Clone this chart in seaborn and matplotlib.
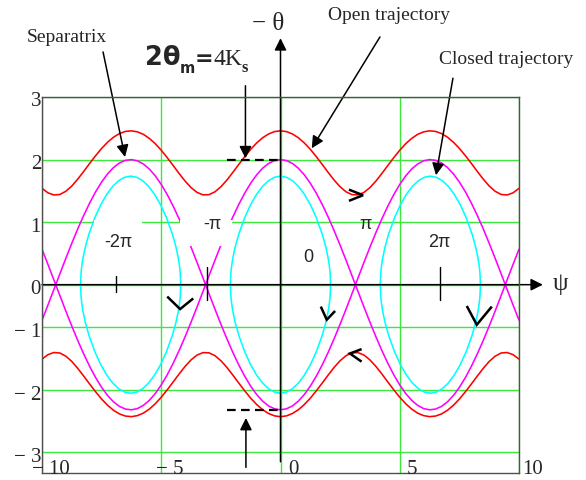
import matplotlib
matplotlib.use("Agg")
import matplotlib.pyplot as plt
from matplotlib.patches import Rectangle
import seaborn as sns

# ---- phase-plane data: psi (horizontal) against -theta (vertical) ----
psi = [-10.0, -9.75, -9.5, -9.25, -9.0, -8.75, -8.5, -8.25, -8.0, -7.75, -7.5,
       -7.25, -7.0, -6.75, -6.5, -6.25, -6.0, -5.75, -5.5, -5.25, -5.0,
       -4.75, -4.5, -4.25, -4.0, -3.75, -3.5, -3.25, -3.0, -2.75, -2.5,
       -2.25, -2.0, -1.75, -1.5, -1.25, -1.0, -0.75, -0.5, -0.25, 0.0,
       0.25, 0.5, 0.75, 1.0, 1.25, 1.5, 1.75, 2.0, 2.25, 2.5,
       2.75, 3.0, 3.25, 3.5, 3.75, 4.0, 4.25, 4.5, 4.75, 5.0,
       5.25, 5.5, 5.75, 6.0, 6.25, 6.5, 6.75, 7.0, 7.25, 7.5,
       7.75, 8.0, 8.25, 8.5, 8.75, 9.0, 9.25, 9.5, 9.75, 10.0]

# open (rotating) trajectory, upper branch
open_upper = [1.540, 1.468, 1.434, 1.442, 1.493, 1.577, 1.688, 1.811, 1.939, 2.063, 2.178,
              2.277, 2.358, 2.416, 2.450, 2.459, 2.443, 2.403, 2.338, 2.253, 2.149,
              2.031, 1.905, 1.777, 1.656, 1.552, 1.475, 1.436, 1.439, 1.484, 1.565,
              1.671, 1.794, 1.922, 2.047, 2.164, 2.265, 2.348, 2.409, 2.447, 2.460,
              2.447, 2.409, 2.348, 2.265, 2.164, 2.047, 1.922, 1.794, 1.671, 1.565,
              1.484, 1.439, 1.436, 1.475, 1.552, 1.656, 1.777, 1.905, 2.031, 2.149,
              2.253, 2.338, 2.403, 2.443, 2.459, 2.450, 2.416, 2.358, 2.277, 2.178,
              2.063, 1.939, 1.811, 1.688, 1.577, 1.493, 1.442, 1.434, 1.468, 1.540]
# open trajectory, lower branch
open_lower = [-1.190, -1.118, -1.084, -1.092, -1.143, -1.227, -1.338, -1.461, -1.589, -1.713, -1.828,
              -1.927, -2.008, -2.066, -2.100, -2.109, -2.093, -2.053, -1.988, -1.903, -1.799,
              -1.681, -1.555, -1.427, -1.306, -1.202, -1.125, -1.086, -1.089, -1.134, -1.215,
              -1.321, -1.444, -1.572, -1.697, -1.814, -1.915, -1.998, -2.059, -2.097, -2.110,
              -2.097, -2.059, -1.998, -1.915, -1.814, -1.697, -1.572, -1.444, -1.321, -1.215,
              -1.134, -1.089, -1.086, -1.125, -1.202, -1.306, -1.427, -1.555, -1.681, -1.799,
              -1.903, -1.988, -2.053, -2.093, -2.109, -2.100, -2.066, -2.008, -1.927, -1.828,
              -1.713, -1.589, -1.461, -1.338, -1.227, -1.143, -1.092, -1.084, -1.118, -1.190]

# separatrix, the two crossing branches
sep_a = [0.567, 0.324, 0.075, -0.174, -0.422, -0.662, -0.893, -1.108, -1.307, -1.486, -1.641,
         -1.771, -1.873, -1.946, -1.988, -2.000, -1.980, -1.929, -1.849, -1.739, -1.602,
         -1.441, -1.256, -1.052, -0.832, -0.599, -0.357, -0.108, 0.141, 0.389, 0.631,
         0.862, 1.081, 1.282, 1.463, 1.622, 1.755, 1.861, 1.938, 1.984, 2.000,
         1.984, 1.938, 1.861, 1.755, 1.622, 1.463, 1.282, 1.081, 0.862, 0.631,
         0.389, 0.141, -0.108, -0.357, -0.599, -0.832, -1.052, -1.256, -1.441, -1.602,
         -1.739, -1.849, -1.929, -1.980, -2.000, -1.988, -1.946, -1.873, -1.771, -1.641,
         -1.486, -1.307, -1.108, -0.893, -0.662, -0.422, -0.174, 0.075, 0.324, 0.567]
sep_b = [-0.567, -0.324, -0.075, 0.174, 0.422, 0.662, 0.893, 1.108, 1.307, 1.486, 1.641,
         1.771, 1.873, 1.946, 1.988, 2.000, 1.980, 1.929, 1.849, 1.739, 1.602,
         1.441, 1.256, 1.052, 0.832, 0.599, 0.357, 0.108, -0.141, -0.389, -0.631,
         -0.862, -1.081, -1.282, -1.463, -1.622, -1.755, -1.861, -1.938, -1.984, -2.000,
         -1.984, -1.938, -1.861, -1.755, -1.622, -1.463, -1.282, -1.081, -0.862, -0.631,
         -0.389, -0.141, 0.108, 0.357, 0.599, 0.832, 1.052, 1.256, 1.441, 1.602,
         1.739, 1.849, 1.929, 1.980, 2.000, 1.988, 1.946, 1.873, 1.771, 1.641,
         1.486, 1.307, 1.108, 0.893, 0.662, 0.422, 0.174, -0.075, -0.324, -0.567]

# closed (oscillating) trajectories around -2pi, 0 and 2pi
oval_left_x = [-8.383, -8.363, -8.333, -8.283, -8.183, -8.033, -7.783, -7.533, -7.283,
               -7.033, -6.783, -6.533, -6.283, -6.033, -5.783, -5.533, -5.283, -5.033,
               -4.783, -4.533, -4.383, -4.283, -4.233, -4.203, -4.183]
oval_mid_x = [-2.1, -2.08, -2.05, -2.0, -1.9, -1.75, -1.5, -1.25, -1.0, -0.75, -0.5, -0.25,
              0.0, 0.25, 0.5, 0.75, 1.0, 1.25, 1.5, 1.75, 1.9, 2.0, 2.05, 2.08, 2.1]
oval_right_x = [4.183, 4.203, 4.233, 4.283, 4.383, 4.533, 4.783, 5.033, 5.283, 5.533,
                5.783, 6.033, 6.283, 6.533, 6.783, 7.033, 7.283, 7.533, 7.783, 8.033,
                8.183, 8.283, 8.333, 8.363, 8.383]
oval_top = [0.0, 0.187, 0.296, 0.422, 0.603, 0.808, 1.073, 1.281, 1.446, 1.573, 1.663, 1.717,
            1.735, 1.717, 1.663, 1.573, 1.446, 1.281, 1.073, 0.808, 0.603, 0.422, 0.296, 0.187, 0.0]
oval_bottom = [0.0, -0.187, -0.296, -0.422, -0.603, -0.808, -1.073, -1.281, -1.446, -1.573,
               -1.663, -1.717, -1.735, -1.717, -1.663, -1.573, -1.446, -1.281, -1.073,
               -0.808, -0.603, -0.422, -0.296, -0.187, 0.0]

theta_m = 2.0

# axis ticks and labels
x_tick_pos = [-10, -5, 0, 5, 10]
x_tick_text = ["\u2212 10", "\u2212 5", "0", "5", "10"]
x_label_shift = [9, 8, 13, 12, 14]          # pixels
y_grid_pos = [3, 2, 1, 0, -0.68, -1.69, -2.68]
y_tick_text = ["3", "2", "1", "0", "\u2212 1", "\u2212 2", "\u2212 3"]

# multiples of pi written inside the plane
pi_labels = ["-2\u03c0", "-\u03c0", "0", "\u03c0", "2\u03c0"]
pi_label_x = [-6.81, -2.86, 1.15, 3.58, 6.65]
pi_label_y = [0.67, 0.97, 0.44, 0.97, 0.68]
pi_mark_x = [-6.90, -3.09, 6.69]
pi_mark_half = [0.12, 0.24, 0.24]

# direction-of-motion chevrons (arm, tip, arm)
chevrons = [
    ([2.87, 3.46, 2.87], [1.52, 1.43, 1.34]),
    ([-4.75, -4.21, -3.66], [-0.19, -0.39, -0.22]),
    ([1.69, 1.94, 2.29], [-0.35, -0.56, -0.42]),
    ([7.81, 8.23, 8.86], [-0.34, -0.64, -0.35]),
    ([3.40, 2.91, 3.40], [-1.03, -1.10, -1.23]),
]

RED, MAGENTA, CYAN, GRID = "#ff0000", "#ff00ff", "#00ffff", "#3de83d"

sns.set_style("white")
plt.rcParams["font.family"] = ["Liberation Serif", "DejaVu Serif"]

W, H = 586, 480
fig = plt.figure(figsize=(W / 100, H / 100), dpi=100)
ax = fig.add_axes([42 / W, 1 - 473 / H, 477 / W, 376 / H])
ax.set_xlim(-10, 10)
ax.set_ylim(-3.01, 3.0)

ax.set_xticks(x_tick_pos)
ax.set_yticks(y_grid_pos)
ax.set_xticklabels([])
ax.set_yticklabels([])
ax.tick_params(length=0)
ax.grid(True, color=GRID, lw=1.0)
ax.set_axisbelow(True)
for s in ax.spines.values():
    s.set_color("#505050")
    s.set_linewidth(1.0)
    s.set_zorder(6)


def trace(xs, ys, color):
    sns.lineplot(x=xs, y=ys, sort=False, estimator=None, color=color,
                 lw=1.15, ax=ax, legend=False, zorder=2)


trace(psi, open_upper, RED)
trace(psi, open_lower, RED)
trace(psi, sep_a, MAGENTA)
trace(psi, sep_b, MAGENTA)
for ox in (oval_left_x, oval_mid_x, oval_right_x):
    trace(ox + ox[::-1], oval_top + oval_bottom[::-1], CYAN)

# white backing behind the -2pi and -pi labels
ax.add_patch(Rectangle((-7.83, 0.35), 2.02, 0.69, fc="white", ec="none", zorder=3))
ax.add_patch(Rectangle((-4.21, 0.62), 2.18, 0.42, fc="white", ec="none", zorder=3))

for t, x, y in zip(pi_labels, pi_label_x, pi_label_y):
    ax.text(x, y, t, ha="center", va="center", fontsize=13,
            family=["Liberation Sans", "DejaVu Sans"], zorder=7)
for x, h in zip(pi_mark_x, pi_mark_half):
    ax.plot([x, x], [-h, h * 1.15], color="black", lw=1.0, zorder=5)

for xs, ys in chevrons:
    ax.plot(xs, ys, color="black", lw=1.8, zorder=5, solid_capstyle="butt",
            solid_joinstyle="miter")

# theta_m markers
ax.plot([-2.24, 0], [theta_m, theta_m], color="black", lw=1.6, ls=(0, (3.9, 2.4)), zorder=5)
ax.plot([-2.24, 0], [-theta_m, -theta_m], color="black", lw=1.6, ls=(0, (3.9, 2.4)), zorder=5)

head = dict(arrowstyle="-|>", color="black", lw=1.1, mutation_scale=18,
            shrinkA=0, shrinkB=0)
# coordinate axes with arrow heads
ax.annotate("", xy=(11.0, 0), xytext=(-10, 0), arrowprops=head,
            annotation_clip=False, zorder=5)
ax.annotate("", xy=(0, 3.94), xytext=(0, -2.83), arrowprops=head,
            annotation_clip=False, zorder=5)

# pointer arrows
ax.annotate("", xy=(-6.52, 2.04), xytext=(-7.44, 3.72), arrowprops=head, annotation_clip=False)
ax.annotate("", xy=(1.31, 2.18), xytext=(4.17, 3.96), arrowprops=head, annotation_clip=False)
ax.annotate("", xy=(6.52, 1.75), xytext=(7.23, 3.30), arrowprops=head, annotation_clip=False)
ax.annotate("", xy=(-1.47, 2.02), xytext=(-1.47, 3.18), arrowprops=head, annotation_clip=False)
ax.annotate("", xy=(-1.45, -2.13), xytext=(-1.45, -2.92), arrowprops=head, annotation_clip=False)

# tick labels
for v, t in zip(y_grid_pos, y_tick_text):
    ax.annotate(t, xy=(0, v), xycoords=("axes fraction", "data"), xytext=(-1, -5),
                textcoords="offset pixels", ha="right", va="center", fontsize=15,
                annotation_clip=False)
for v, t, dx in zip(x_tick_pos, x_tick_text, x_label_shift):
    ax.annotate(t, xy=(v, 0), xycoords=("data", "axes fraction"), xytext=(dx, 3),
                textcoords="offset pixels", ha="center", va="center", fontsize=15,
                annotation_clip=False, zorder=7)


def fpos(px, py):
    return px / W, 1 - py / H


fig.text(*fpos(560, 284), "\u03c8", fontsize=18, ha="center", va="center")
fig.text(*fpos(268, 24), "\u2212 \u03b8", fontsize=18, ha="center", va="center")
fig.text(*fpos(67, 38), "Separatrix", fontsize=14, ha="center", va="center")
fig.text(*fpos(389, 15), "Open trajectory", fontsize=14, ha="center", va="center")
fig.text(*fpos(506, 60), "Closed trajectory", fontsize=14, ha="center", va="center")

# 2θm = 4Ks
fig.text(*fpos(145, 65), "2\u03b8", fontsize=18.5, fontweight="bold",
         family="DejaVu Sans", ha="left", va="baseline")
fig.text(*fpos(180, 73), "m", fontsize=10.5, fontweight="bold",
         family="DejaVu Sans", ha="left", va="baseline")
fig.text(*fpos(195, 65), "=", fontsize=16, fontweight="bold",
         family="DejaVu Sans", ha="left", va="baseline")
fig.text(*fpos(213, 65), "4K", fontsize=17, ha="left", va="baseline")
fig.text(*fpos(242, 72), "s", fontsize=12, fontweight="bold", ha="left", va="baseline")

fig.savefig("out.png", dpi=100, facecolor="white")
